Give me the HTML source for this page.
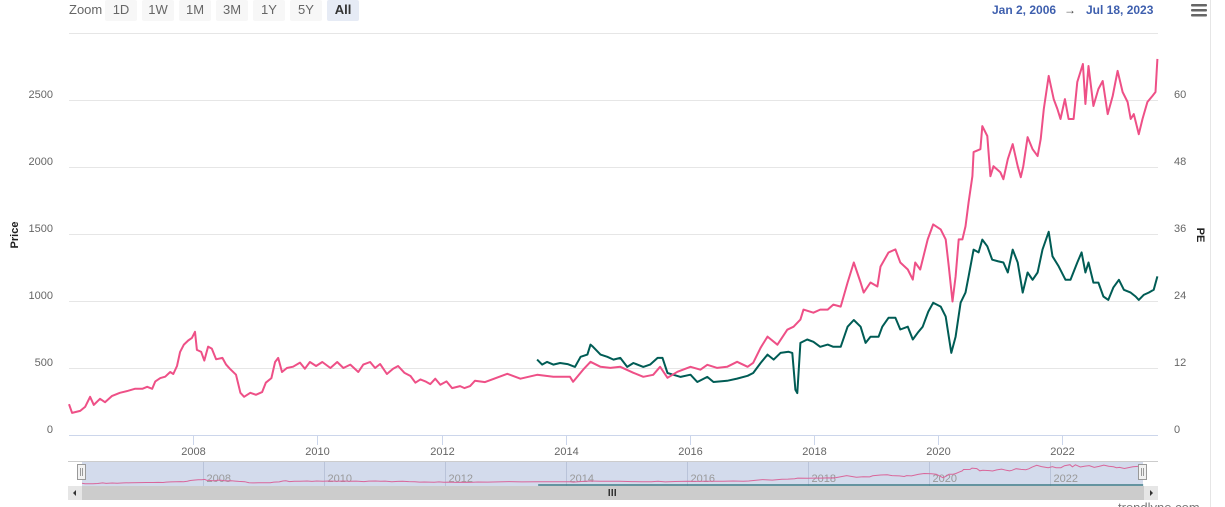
<!DOCTYPE html>
<html><head><meta charset="utf-8"><style>
html,body{margin:0;padding:0;background:#fff;width:1225px;height:507px;overflow:hidden;font-family:"Liberation Sans",sans-serif}
svg{display:block}
</style></head><body>
<svg id="chart" width="1225" height="507" xmlns="http://www.w3.org/2000/svg">
<g id="grid"></g>
<g id="axes"></g>
<g id="series"></g>
<g id="nav"></g>
<g>
<text x="69" y="14" font-size="13" fill="#666">Zoom</text>
<g><rect x="105" y="0" width="32" height="21" rx="2" fill="#f7f7f7"/><text x="121" y="14" font-size="13" fill="#666" text-anchor="middle">1D</text></g>
<g><rect x="142" y="0" width="32" height="21" rx="2" fill="#f7f7f7"/><text x="158" y="14" font-size="13" fill="#666" text-anchor="middle">1W</text></g>
<g><rect x="179" y="0" width="32" height="21" rx="2" fill="#f7f7f7"/><text x="195" y="14" font-size="13" fill="#666" text-anchor="middle">1M</text></g>
<g><rect x="216" y="0" width="32" height="21" rx="2" fill="#f7f7f7"/><text x="232" y="14" font-size="13" fill="#666" text-anchor="middle">3M</text></g>
<g><rect x="253" y="0" width="32" height="21" rx="2" fill="#f7f7f7"/><text x="269" y="14" font-size="13" fill="#666" text-anchor="middle">1Y</text></g>
<g><rect x="290" y="0" width="32" height="21" rx="2" fill="#f7f7f7"/><text x="306" y="14" font-size="13" fill="#666" text-anchor="middle">5Y</text></g>
<g><rect x="327" y="0" width="32" height="21" rx="2" fill="#e6ebf5"/><text x="343" y="14" font-size="13" fill="#333" font-weight="bold" text-anchor="middle">All</text></g>
<text x="992" y="14" font-size="12" font-weight="bold" fill="#3e5fae">Jan 2, 2006</text>
<text x="1064" y="14" font-size="12" fill="#444">→</text>
<text x="1086" y="14" font-size="12" font-weight="bold" fill="#3e5fae">Jul 18, 2023</text>
</g>
<g fill="#666"><rect x="1191" y="4" width="16" height="2.5" rx="1"/><rect x="1191" y="9" width="16" height="2.5" rx="1"/><rect x="1191" y="14" width="16" height="2.5" rx="1"/></g>
<line x1="1210.5" y1="0" x2="1210.5" y2="507" stroke="#e6e6e6"/>
<text transform="translate(18,235) rotate(-90)" font-size="11" font-weight="bold" fill="#222" text-anchor="middle">Price</text>
<text transform="translate(1197,235) rotate(90)" font-size="11" font-weight="bold" fill="#222" text-anchor="middle">PE</text>
<text x="1118" y="512" font-size="13" fill="#777">trendlyne.com</text>
</svg>
<script>
const priceYears=[2006.00,2006.05,2006.18,2006.26,2006.34,2006.40,2006.50,2006.58,2006.69,2006.82,2006.95,2007.06,2007.18,2007.26,2007.34,2007.39,2007.47,2007.55,2007.63,2007.68,2007.74,2007.79,2007.85,2007.92,2007.98,2008.03,2008.06,2008.13,2008.18,2008.24,2008.30,2008.37,2008.47,2008.53,2008.59,2008.69,2008.76,2008.82,2008.92,2009.01,2009.11,2009.17,2009.26,2009.32,2009.37,2009.43,2009.51,2009.61,2009.72,2009.80,2009.88,2009.98,2010.08,2010.21,2010.32,2010.42,2010.53,2010.66,2010.74,2010.85,2010.93,2011.01,2011.12,2011.22,2011.30,2011.40,2011.50,2011.58,2011.66,2011.74,2011.82,2011.90,2011.98,2012.08,2012.17,2012.30,2012.37,2012.46,2012.54,2012.70,2013.06,2013.27,2013.54,2013.80,2014.07,2014.12,2014.28,2014.40,2014.56,2014.72,2014.88,2015.09,2015.25,2015.41,2015.52,2015.64,2015.80,2016.01,2016.17,2016.28,2016.44,2016.60,2016.76,2016.93,2017.02,2017.14,2017.25,2017.41,2017.57,2017.67,2017.78,2017.83,2017.99,2018.10,2018.22,2018.31,2018.43,2018.54,2018.64,2018.75,2018.80,2018.91,2019.02,2019.07,2019.20,2019.31,2019.39,2019.51,2019.59,2019.63,2019.71,2019.83,2019.92,2020.04,2020.12,2020.17,2020.23,2020.28,2020.33,2020.39,2020.44,2020.49,2020.55,2020.57,2020.68,2020.71,2020.79,2020.84,2020.89,2021.00,2021.05,2021.12,2021.20,2021.28,2021.33,2021.37,2021.44,2021.52,2021.60,2021.65,2021.70,2021.78,2021.86,2021.92,2021.97,2022.04,2022.10,2022.18,2022.24,2022.33,2022.37,2022.42,2022.50,2022.58,2022.65,2022.73,2022.81,2022.89,2022.97,2023.05,2023.10,2023.15,2023.23,2023.29,2023.37,2023.45,2023.50,2023.53];
const priceValues=[230,165,180,210,285,225,270,245,290,315,330,345,345,360,345,400,425,435,470,455,515,620,675,705,725,770,635,620,555,660,645,565,575,525,495,450,315,285,315,300,320,390,425,545,575,470,500,510,540,495,545,515,545,500,545,500,525,470,525,545,500,530,455,495,515,465,440,390,415,400,380,420,375,400,350,365,350,365,405,395,457,420,449,434,434,397,487,546,509,501,509,464,434,449,509,427,472,509,487,524,501,509,546,509,539,651,734,674,786,808,861,936,913,936,936,973,958,1138,1287,1138,1063,1138,1108,1257,1362,1385,1287,1235,1160,1287,1235,1460,1572,1534,1460,1257,996,1183,1460,1460,1557,1737,1931,2111,2133,2305,2231,1931,2006,1961,1909,2058,2171,2006,1924,2006,2223,2133,2081,2208,2433,2680,2507,2433,2358,2507,2358,2358,2635,2769,2470,2754,2455,2582,2642,2395,2530,2717,2560,2485,2358,2395,2245,2358,2485,2530,2560,2807];
const peYears=[2013.54,2013.62,2013.70,2013.80,2013.91,2014.03,2014.15,2014.24,2014.35,2014.40,2014.44,2014.56,2014.67,2014.77,2014.88,2014.99,2015.09,2015.25,2015.36,2015.48,2015.56,2015.64,2015.73,2015.85,2016.01,2016.12,2016.28,2016.38,2016.60,2016.76,2016.93,2017.02,2017.14,2017.25,2017.35,2017.46,2017.59,2017.65,2017.70,2017.73,2017.78,2017.89,2017.99,2018.10,2018.22,2018.31,2018.43,2018.54,2018.64,2018.75,2018.83,2018.91,2019.04,2019.10,2019.20,2019.31,2019.39,2019.51,2019.59,2019.67,2019.75,2019.84,2019.92,2020.04,2020.12,2020.17,2020.21,2020.28,2020.36,2020.44,2020.49,2020.57,2020.65,2020.71,2020.79,2020.87,2020.97,2021.05,2021.12,2021.20,2021.28,2021.36,2021.44,2021.52,2021.60,2021.68,2021.78,2021.84,2021.94,2022.05,2022.13,2022.24,2022.31,2022.37,2022.42,2022.50,2022.58,2022.66,2022.74,2022.82,2022.91,2022.99,2023.10,2023.18,2023.23,2023.31,2023.39,2023.47,2023.53];
const peValues=[13.5,12.6,13.1,12.6,12.9,12.7,12.2,14.0,14.4,16.2,15.8,14.4,14.0,13.5,13.8,12.2,12.9,12.2,12.6,13.8,13.8,11.1,10.8,10.4,10.8,9.5,10.4,9.5,9.7,10.1,10.6,11.1,12.9,14.4,13.5,14.7,14.9,14.7,8.1,7.5,16.5,17.1,16.7,15.8,16.2,15.8,15.8,19.4,20.6,19.4,16.5,17.6,17.6,19.4,21.0,21.0,18.9,19.4,17.1,18.3,19.4,22.1,23.7,23.0,21.2,17.6,14.7,17.6,23.7,25.5,28.4,33.2,32.7,35.0,33.8,31.4,31.1,30.9,29.1,33.2,30.9,25.5,29.1,27.8,29.1,33.2,36.4,32.0,30.2,27.8,27.8,30.9,32.7,29.1,30.9,27.3,27.3,24.8,24.2,26.4,27.8,26.0,25.5,24.8,24.2,25.1,25.5,26.0,28.4];
const priceTicks=[0,500,1000,1500,2000,2500];
const peTicks=[0,12,24,36,48,60];
const yearTicks=[2008,2010,2012,2014,2016,2018,2020,2022];

const NS='http://www.w3.org/2000/svg';
const X0=69,X1=1158,Y0=435,YT=33;
const xs=yr=>X0+(yr-2006)*(X1-X0)/17.54;
const yP=p=>Y0-p*(Y0-YT)/3000;
const yE=e=>Y0-e*(Y0-YT)/72;
const nx=yr=>82+(yr-2006)*60.5;
const ny=p=>485-p*22/3000;
function el(tag,attrs,parent){const e=document.createElementNS(NS,tag);for(const k in attrs)e.setAttribute(k,attrs[k]);parent.appendChild(e);return e;}
const grid=document.getElementById('grid'),axes=document.getElementById('axes'),series=document.getElementById('series'),nav=document.getElementById('nav');
[...priceTicks,3000].forEach(t=>{if(t===0)return;const g=el('line',{x1:X0,x2:X1,y1:Math.round(yP(t))+0.5,y2:Math.round(yP(t))+0.5,stroke:'#e6e6e6'},grid);

});
priceTicks.forEach(t=>{const tx=el('text',{x:53,y:yP(t)-2,'font-size':11,fill:'#666','text-anchor':'end'},axes);tx.textContent=t;

});
peTicks.forEach(t=>{const tx=el('text',{x:1174,y:yE(t)-2,'font-size':11,fill:'#666'},axes);tx.textContent=t;

});
const ax=el('line',{x1:X0,x2:X1,y1:435.5,y2:435.5,stroke:'#ccd6eb'},axes);


yearTicks.forEach(yr=>{const x=Math.round(xs(yr))+0.5;el('line',{x1:x,x2:x,y1:435,y2:445,stroke:'#ccd6eb'},axes);
const tx=el('text',{x:x,y:455,'font-size':11,fill:'#666','text-anchor':'middle'},axes);tx.textContent=yr;

});
function path(xa,ya,fx,fy){return xa.map((v,i)=>(i?'L':'M')+fx(v).toFixed(1)+' '+fy(ya[i]).toFixed(1)).join(' ');}
const pe=el('path',{d:path(peYears,peValues,xs,yE),fill:'none',stroke:'#005c55','stroke-width':2,'stroke-linejoin':'round'},series);


const pr=el('path',{d:path(priceYears,priceValues,xs,yP),fill:'none',stroke:'#ee5087','stroke-width':2,'stroke-linejoin':'round'},series);


// navigator
el('line',{x1:68,x2:1158,y1:461.5,y2:461.5,stroke:'#cccccc'},nav);
const band=el('rect',{x:82,y:462,width:1061,height:24,fill:'#d3dbec'},nav);


yearTicks.forEach(yr=>{const x=Math.round(nx(yr))+0.5;el('line',{x1:x,x2:x,y1:462,y2:486,stroke:'#b9c3d9'},nav);
const tx=el('text',{x:x+3,y:482,'font-size':11,fill:'#999'},nav);tx.textContent=yr;

});
const np=el('path',{d:path(priceYears,priceValues,nx,ny),fill:'none',stroke:'#d9669a','stroke-width':1},nav);


const nt=el('line',{x1:nx(peYears[0]),x2:nx(2023.54),y1:485,y2:485,stroke:'#3f7c86','stroke-width':1.5},nav);


[82,1143].forEach((x,i)=>{const h=el('rect',{x:x-4.5,y:464.5,width:8,height:15,fill:'#f2f2f2',stroke:'#999'},nav);


el('line',{x1:x-1.5,x2:x-1.5,y1:468,y2:476,stroke:'#999'},nav);el('line',{x1:x+0.5,x2:x+0.5,y1:468,y2:476,stroke:'#999'},nav);});
const sb=el('rect',{x:68,y:486,width:1090,height:14,fill:'#cccccc'},nav);


const lb=el('rect',{x:68,y:486,width:14,height:14,fill:'#e6e6e6'},nav);


el('path',{d:'M73 493 L76 490 L76 496 Z',fill:'#333'},nav);
const rb=el('rect',{x:1144,y:486,width:14,height:14,fill:'#e6e6e6'},nav);


el('path',{d:'M1153 493 L1150 490 L1150 496 Z',fill:'#333'},nav);
[609,612,615].forEach(x=>el('rect',{x:x-0.5,y:489,width:1.5,height:7,fill:'#333'},nav));
</script>
</body></html>
